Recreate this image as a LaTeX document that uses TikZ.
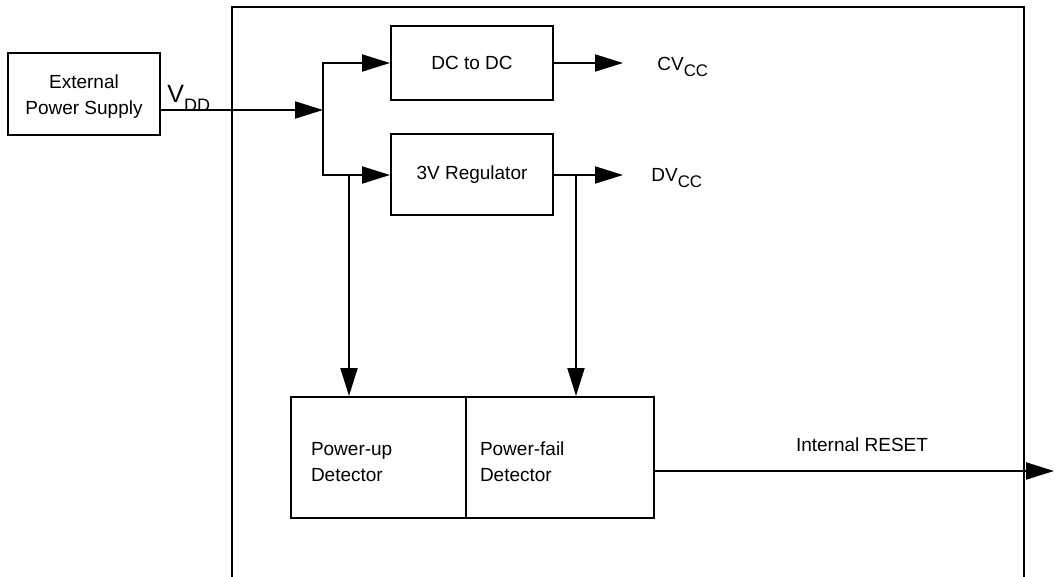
\documentclass[tikz,border=0pt]{standalone}
\usepackage{fontspec}
\setmainfont{Liberation Sans}
\usetikzlibrary{arrows.meta,positioning}

% lowered subscript as printed in the data sheet: size, drop, text
\newcommand{\lowsub}[3]{\raisebox{-#2}{\fontsize{#1}{9}\selectfont #3}}

\begin{document}
\begin{tikzpicture}[x=0.5pt, y=-0.5pt,
    font=\fontsize{9.5}{13}\selectfont,
    blk/.style={draw, line width=1pt, inner sep=0pt, align=center},
    det/.style={draw, line width=1pt, inner ysep=0pt, align=left, minimum height=60.5pt},
    arr/.style={line width=1pt, -{Triangle[length=14pt,width=8.5pt]}},
    lbl/.style={anchor=base west, inner sep=0pt}]
  \useasboundingbox (0,0) rectangle (1055,577);

  % Chip outline (open at the bottom)
  \draw[line width=1.3pt] (232,577) -- (232,7) -- (1024,7) -- (1024,577);

  % External supply
  \node[blk, minimum width=76pt, minimum height=41pt] (ext) at (84,94) {\rule{0pt}{9pt}External\\Power Supply};
  \node[lbl, font=\fontsize{12.5}{14}\selectfont] (vdd) at (167,103) {V\lowsub{9}{4.3pt}{DD}};

  % Supply split point
  \coordinate (split) at (323,110);
  \draw[arr] (ext.east) ++(0,16) -- (split);

  % DC to DC converter
  \node[blk, minimum width=81pt, minimum height=37pt] (dcdc) at (472,63) {DC to DC};
  \draw[arr] (split) |- (dcdc.west);
  \coordinate (cvout) at (623,63);
  \draw[arr] (dcdc.east) -- (cvout);
  \node[lbl] (cvcc) at (657,71) {CV\lowsub{8.4}{2.6pt}{CC}};

  % 3V regulator
  \node[blk, minimum width=81pt, minimum height=40.5pt] (reg) at (472,175) {3V Regulator};
  \draw[arr] (split) |- (reg.west);
  \coordinate (dvout) at (623,175);
  \draw[arr] (reg.east) -- (dvout);
  \node[lbl] (dvcc) at (651,182) {DV\lowsub{8.4}{2.6pt}{CC}};

  % Detectors
  \node[det, minimum width=87.5pt, text width=67.5pt, inner xsep=10pt] (pwrup) at (378.5,457.5) {\rule{0pt}{11pt}Power-up\\Detector};
  \node[det, minimum width=94pt, text width=80pt, inner xsep=7pt] (pwrfail) at (560,457.5) {\rule{0pt}{11pt}Power-fail\\Detector};

  % Taps down to the detectors
  \coordinate (tapl) at (349,175);
  \coordinate (tapr) at (576,175);
  \draw[arr] (tapl) -- (tapl |- pwrup.north);
  \draw[arr] (tapr) -- (tapr |- pwrfail.north);

  % Reset output
  \coordinate (rstout) at (1054,471);
  \draw[arr] (rstout -| pwrfail.east) -- (rstout);
  \node[anchor=base, inner sep=0pt] (rst) at (862,451) {Internal RESET};
\end{tikzpicture}
\end{document}
